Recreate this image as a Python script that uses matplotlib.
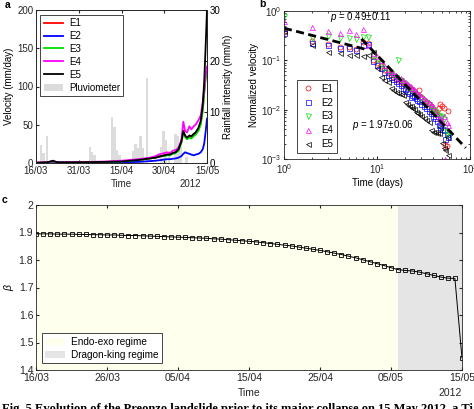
import matplotlib
matplotlib.use('Agg')
import matplotlib.pyplot as plt
import numpy as np
from matplotlib.patches import Patch
from matplotlib.ticker import LogLocator, NullFormatter

plt.rcParams['font.family'] = ['Liberation Sans', 'DejaVu Sans']
plt.rcParams['font.size'] = 7
plt.rcParams['axes.linewidth'] = 0.6
plt.rcParams['xtick.direction'] = 'in'
plt.rcParams['ytick.direction'] = 'in'
plt.rcParams['xtick.major.size'] = 2.5
plt.rcParams['ytick.major.size'] = 2.5
plt.rcParams['xtick.minor.size'] = 1.3
plt.rcParams['ytick.minor.size'] = 1.3
plt.rcParams['mathtext.fontset'] = 'custom'
plt.rcParams['mathtext.rm'] = 'Liberation Sans'
plt.rcParams['mathtext.it'] = 'Liberation Sans:italic'
plt.rcParams['legend.fontsize'] = 7

DARK = '#262626'

# ---------------- panel a data (days since 16/03/2012) ----------------
t_vel = [0, 2, 4, 6, 7, 8, 10, 15, 20, 25, 30, 33, 36, 38, 40, 42, 43, 44, 45, 46,
         47, 48, 49, 50, 51, 51.7, 52.3, 53, 53.8, 54.5, 55.3, 56, 57, 57.8, 58.5, 59, 59.5, 60]
vel_E1 = [0.3, 0.5, 0.8, 2, 1, 0.8, 0.8, 1, 1.2, 1.5, 2, 3, 4, 5, 6, 7, 8, 9, 10, 11,
          11, 13, 14, 17, 28, 41, 35, 32, 34, 33, 36, 38, 44, 52, 70, 92, 112, 122]
vel_E2 = [0.2, 0.3, 0.5, 1, 0.6, 0.5, 0.5, 0.6, 0.7, 0.8, 1, 1.2, 1.5, 2, 2.5, 3, 3.5, 4, 4.5, 5,
          5, 5.5, 6, 7, 9, 12, 14, 13, 12, 11, 10, 11, 12, 14, 18, 25, 40, 58]
vel_E3 = [0.3, 0.5, 0.8, 2, 1, 0.8, 0.8, 1, 1.2, 1.5, 2, 3, 4, 5, 6, 7, 11, 9, 9, 10,
          10, 12, 13, 16, 26, 40, 34, 31, 33, 32, 35, 37, 42, 50, 68, 90, 110, 121]
vel_E4 = [0.5, 0.8, 1, 2.5, 1.2, 1, 1, 1.2, 1.5, 2, 3, 4, 5, 6, 7, 9, 11, 12, 13, 14,
          13, 16, 17, 20, 30, 54, 42, 40, 48, 44, 48, 50, 56, 62, 80, 95, 115, 126]
vel_E5 = [0.3, 0.5, 1, 3, 1.5, 0.8, 0.8, 1, 1.2, 1.5, 2, 3, 4, 5, 6, 7, 8, 9, 10, 11,
          11, 13, 14, 18, 28, 42, 36, 33, 36, 35, 38, 40, 46, 55, 75, 105, 150, 200]

rain_day = [1.7, 2.6, 3.8, 18.9, 19.7, 20.5, 26.7, 27.6, 28.5, 29.3, 34.0, 34.9, 35.7, 36.6,
            37.4, 38.9, 43.9, 44.8, 45.7, 46.6, 48.9, 49.8, 50.7, 52.8]
rain_mmh = [3.5, 1.9, 5.2, 3.1, 2.2, 1.6, 9.1, 7.1, 2.5, 1.6, 2.4, 3.7, 2.9, 5.2,
            2.9, 16.7, 3.2, 6.3, 4.5, 1.9, 5.6, 5.2, 3.2, 1.2]

ticks_a = [0, 15, 30, 45, 60]
labels_a = ['16/03', '31/03', '15/04', '30/04', '15/05']

# ---------------- panel b data ----------------
t_b = [1, 2, 3, 4, 5, 6, 7, 8, 9, 10, 11, 12, 13, 14, 15, 16, 17, 18, 19, 20, 21, 22,
       23, 24, 25, 26, 27, 28, 30, 32, 34, 36, 38, 40, 42, 44, 46, 48, 50, 52, 54, 56, 58]
nv_E1 = [0.38, 0.25, 0.21, 0.19, 0.19, 0.17, 0.23, 0.22, 0.1, 0.09, 0.075, 0.065, 0.055, 0.05,
         0.046, 0.042, 0.04, 0.037, 0.034, 0.032, 0.03, 0.028, 0.026, 0.024, 0.022, 0.021, 0.02,
         0.025, 0.018, 0.016, 0.014, 0.013, 0.012, 0.01, 0.009, 0.008, 0.011, 0.013, 0.012, 0.011,
         0.0019, 0.0018, 0.0095]
nv_E2 = [0.36, 0.22, 0.2, 0.18, 0.18, 0.16, 0.2, 0.21, 0.095, 0.08, 0.07, 0.058, 0.05, 0.045,
         0.042, 0.038, 0.035, 0.031, 0.028, 0.026, 0.024, 0.022, 0.018, 0.02, 0.019, 0.017, 0.016,
         0.015, 0.013, 0.012, 0.011, 0.0095, 0.0085, 0.0075, 0.0068, 0.006, 0.005, 0.0045, 0.004,
         0.0038, 0.0025, 0.0032, 0.0028]
nv_E3 = [0.8, 0.28, 0.31, 0.29, 0.28, 0.27, 0.3, 0.3, 0.12, 0.1, 0.085, 0.07, 0.06, 0.055,
         0.05, 0.045, 0.1, 0.04, 0.036, 0.033, 0.03, 0.028, 0.026, 0.025, 0.023, 0.021, 0.02,
         0.019, 0.017, 0.015, 0.014, 0.013, 0.011, 0.0105, 0.0095, 0.0085, 0.0075, 0.007, 0.0075,
         0.0065, 0.0045, 0.003, 0.0035]
nv_E4 = [0.62, 0.47, 0.4, 0.36, 0.42, 0.34, 0.44, 0.2, 0.14, 0.12, 0.1, 0.08, 0.068, 0.06,
         0.055, 0.05, 0.046, 0.043, 0.04, 0.037, 0.034, 0.032, 0.03, 0.028, 0.026, 0.024, 0.022,
         0.021, 0.019, 0.017, 0.016, 0.014, 0.013, 0.012, 0.0095, 0.008, 0.007, 0.0065, 0.006,
         0.0075, 0.001, 0.0055, 0.005]
nv_E5 = [0.4, 0.2, 0.15, 0.14, 0.13, 0.13, 0.12, 0.13, 0.15, 0.07, 0.045, 0.04, 0.037, 0.027,
         0.025, 0.023, 0.022, 0.021, 0.02, 0.014, 0.013, 0.012, 0.012, 0.011, 0.0105, 0.009, 0.0085,
         0.008, 0.0075, 0.0068, 0.0062, 0.0055, 0.0038, 0.0036, 0.0035, 0.0034, 0.0033, 0.0045,
         0.0021, 0.0017, 0.0015, 0.0028, 0.0012]

# power-law fits: (prefactor, exponent, t_start, t_end)
fit1 = (0.45, 0.49, 1.0, 8.0)
fit2 = (11.9, 1.97, 6.8, 90.0)

# ---------------- panel c data ----------------
beta_day = list(range(61))
beta = [1.895, 1.895, 1.895, 1.894, 1.894, 1.894, 1.893, 1.893, 1.892, 1.892,
        1.891, 1.891, 1.890, 1.889, 1.889, 1.888, 1.887, 1.886, 1.885, 1.884,
        1.883, 1.882, 1.881, 1.880, 1.879, 1.877, 1.876, 1.874, 1.872, 1.870,
        1.868, 1.866, 1.863, 1.860, 1.857, 1.854, 1.851, 1.847, 1.843, 1.839,
        1.835, 1.830, 1.825, 1.820, 1.814, 1.808, 1.801, 1.794, 1.787, 1.780,
        1.772, 1.765, 1.762, 1.760, 1.756, 1.750, 1.744, 1.738, 1.734, 1.733,
        1.444]
dk_start = 51.0
ticks_c = [0, 10, 20, 30, 40, 50, 60]
labels_c = ['16/03', '26/03', '05/04', '15/04', '25/04', '05/05', '15/05']

W, H = 474, 409
fig = plt.figure(figsize=(W / 100, H / 100), dpi=100)

def style(ax, fs=7):
    ax.tick_params(which='both', colors=DARK, labelcolor=DARK, top=True, right=True, pad=2,
                   labelsize=fs)
    for s in ax.spines.values():
        s.set_color(DARK)

def legend_frame(leg):
    f = leg.get_frame()
    f.set_edgecolor(DARK)
    f.set_linewidth(0.6)

# ---------------- panel a ----------------
ax1 = fig.add_axes([36 / W, 1 - 163 / H, 171 / W, 153 / H])
ax2 = ax1.twinx()
ax2.bar(rain_day, rain_mmh, width=0.85, color='#dcdcdc', linewidth=0)
ax2.set_ylim(0, 30)
ax2.set_yticks([0, 10, 20, 30])
ax2.set_ylabel('Rainfall intensity (mm/h)', color='k', labelpad=2)
ax2.tick_params(direction='in', colors=DARK, labelcolor='k', pad=2)

cols = ['#ff0000', '#0000ff', '#00e000', '#ff00ff', '#000000']
names = ['E1', 'E2', 'E3', 'E4', 'E5']
handles = []
for v, c, n in zip([vel_E1, vel_E2, vel_E3, vel_E4, vel_E5], cols, names):
    h, = ax1.plot(t_vel, v, color=c, lw=1.3, label=n)
    handles.append(h)
handles.append(Patch(facecolor='#dcdcdc', edgecolor='none', label='Pluviometer'))
ax1.set_zorder(ax2.get_zorder() + 1)
ax1.patch.set_visible(False)
ax1.set_xlim(0, 60)
ax1.set_ylim(0, 200)
ax1.set_yticks([0, 50, 100, 150, 200])
ax1.set_xticks(ticks_a)
ax1.set_xticklabels(labels_a)
ax1.set_ylabel('Velocity (mm/day)', labelpad=2)
style(ax1)
ax1.tick_params(right=False)
for s in ax2.spines.values():
    s.set_color(DARK)
ax2.spines['right'].set_color('k')
leg = ax1.legend(handles=handles, loc='upper left', bbox_to_anchor=(0.025, 0.97),
                 fancybox=False, framealpha=1, handlelength=2.0, handletextpad=0.6,
                 borderpad=0.35, labelspacing=0.3, borderaxespad=0)
legend_frame(leg)
ax1.text(0.5, -0.14, 'Time', transform=ax1.transAxes, ha='center', va='center', color=DARK)
ax1.text(0.9, -0.14, '2012', transform=ax1.transAxes, ha='center', va='center', color=DARK)
fig.text(5 / W, 1 - 5 / H, 'a', fontsize=7.5, fontweight='bold', va='center', ha='left')

# ---------------- panel b ----------------
axb = fig.add_axes([284 / W, 1 - 159 / H, 186 / W, 148 / H])
mk = ['o', 's', 'v', '^', '<']
for v, c, m, n in zip([nv_E1, nv_E2, nv_E3, nv_E4, nv_E5], cols, mk, names):
    axb.plot(t_b, v, ls='none', marker=m, ms=3.6, mfc='none', mec=c, mew=0.5, label=n)
for a, p, t0, t1 in [fit1, fit2]:
    tt = np.array([t0, t1])
    axb.plot(tt, a * tt ** (-p), color='k', lw=2, dashes=(2.9, 1.6))
axb.set_xscale('log')
axb.set_yscale('log')
axb.set_xlim(1, 100)
axb.set_ylim(1e-3, 1)
axb.xaxis.set_minor_locator(LogLocator(base=10, subs=np.arange(2, 10)))
axb.yaxis.set_minor_locator(LogLocator(base=10, subs=np.arange(2, 10)))
axb.xaxis.set_minor_formatter(NullFormatter())
axb.yaxis.set_minor_formatter(NullFormatter())
style(axb)
axb.set_xlabel('Time (days)', labelpad=2)
axb.set_ylabel('Normalized velocity', labelpad=1)
axb.text(3.1, 0.76, r'$\it{p}$ = 0.49$\pm$0.11', ha='left', va='center')
axb.text(5.4, 0.0049, r'$\it{p}$ = 1.97$\pm$0.06', ha='left', va='center')
legb = axb.legend(loc='lower left', bbox_to_anchor=(0.07, 0.04), fancybox=False, framealpha=1,
                  handlelength=1.5, handletextpad=0.6, borderpad=0.4, labelspacing=0.4,
                  borderaxespad=0)
legend_frame(legb)
fig.text(259 / W, 1 - 4 / H, 'b', fontsize=7.5, fontweight='bold', va='center', ha='left')

# ---------------- panel c ----------------
axc = fig.add_axes([36 / W, 1 - 370 / H, 426 / W, 165 / H])
axc.axvspan(0, dk_start, color='#ffffee', lw=0)
axc.axvspan(dk_start, 60, color='#e5e5e5', lw=0)
axc.plot(beta_day, beta, color='k', lw=0.7, marker='s', ms=3.5, mfc='none', mec='k', mew=0.6)
axc.set_xlim(0, 60)
axc.set_ylim(1.4, 2.0)
axc.set_yticks([1.4, 1.5, 1.6, 1.7, 1.8, 1.9, 2.0])
axc.set_yticklabels(['1.4', '1.5', '1.6', '1.7', '1.8', '1.9', '2'])
axc.set_xticks(ticks_c)
axc.set_xticklabels(labels_c)
style(axc, fs=7.5)
axc.set_ylabel(r'$\beta$', labelpad=2, fontsize=7.5)
axc.text(0.5, -0.14, 'Time', transform=axc.transAxes, ha='center', va='center', color=DARK,
         fontsize=7.5)
axc.text(0.972, -0.14, '2012', transform=axc.transAxes, ha='center', va='center', color=DARK,
         fontsize=7.5)
h1 = Patch(facecolor='#ffffee', edgecolor='none', label='Endo-exo regime')
h2 = Patch(facecolor='#e5e5e5', edgecolor='none', label='Dragon-king regime')
legc = axc.legend(handles=[h1, h2], loc='lower left', bbox_to_anchor=(0.014, 0.042),
                  fancybox=False, framealpha=1, handlelength=2.0, handletextpad=0.6,
                  borderpad=0.35, labelspacing=0.3, borderaxespad=0, fontsize=7.2)
legend_frame(legc)
fig.text(2 / W, 1 - 200 / H, 'c', fontsize=7.5, fontweight='bold', va='center', ha='left')

# caption (cut off at the bottom edge)
fig.text(2 / W, 1 - 403 / H, 'Fig. 5 Evolution of the Preonzo landslide prior to its major collapse on 15 May 2012. a Ti',
         family=['Liberation Serif', 'DejaVu Serif'], fontweight='bold', fontsize=9, va='top', ha='left')

fig.savefig('out.png', dpi=100)
